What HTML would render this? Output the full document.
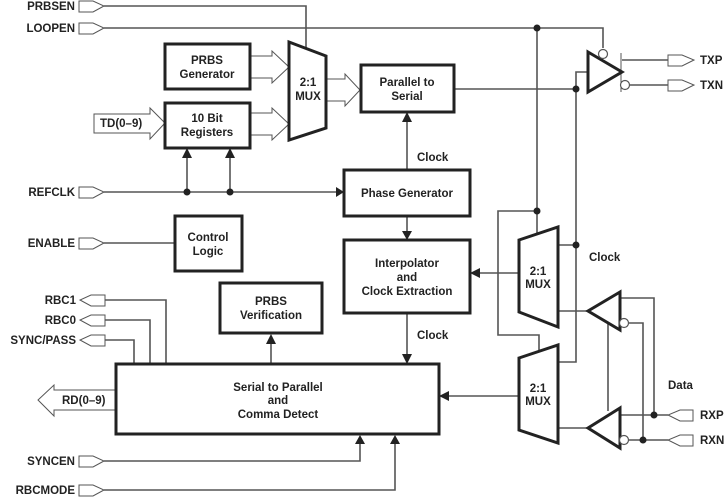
<!DOCTYPE html>
<html><head><style>
html,body{margin:0;padding:0;background:#fff;}
svg{display:block;}
text{font-family:"Liberation Sans",sans-serif;font-weight:bold;font-size:11.5px;fill:#222;}
.l{stroke:#555;stroke-width:1.6;fill:none;}
.b{stroke:#222;stroke-width:3;fill:#fff;}
.h{stroke:#555;stroke-width:1;fill:#fff;}
</style></head><body>
<svg width="726" height="498" viewBox="0 0 726 498" xmlns="http://www.w3.org/2000/svg">
<!-- input terminals (pentagon pointing right) -->
<g class="h">
<polygon points="79,1 93,1 104,6 93,12 79,12"/>
<polygon points="79,23 93,23 104,28 93,34 79,34"/>
<polygon points="79,187 93,187 104,192 93,198 79,198"/>
<polygon points="79,238 93,238 104,243 93,249 79,249"/>
<polygon points="79,456 93,456 104,461 93,467 79,467"/>
<polygon points="79,485 93,485 104,490 93,496 79,496"/>
<!-- outputs left -->
<polygon points="105,295 91,295 80,300 91,306 105,306"/>
<polygon points="105,315 91,315 80,320 91,326 105,326"/>
<polygon points="105,335 91,335 80,340 91,346 105,346"/>
<!-- TX outputs -->
<polygon points="668,55 682,55 694,60 682,66 668,66"/>
<polygon points="668,80 682,80 694,85 682,91 668,91"/>
<!-- RX inputs -->
<polygon points="693,410 680,410 668,415 680,421 693,421"/>
<polygon points="693,435 680,435 668,440 680,446 693,446"/>
</g>
<g font-size="11">
<text x="75" y="10" text-anchor="end">PRBSEN</text>
<text x="75" y="32" text-anchor="end">LOOPEN</text>
<text x="75" y="196" text-anchor="end">REFCLK</text>
<text x="75" y="247" text-anchor="end">ENABLE</text>
<text x="75" y="465" text-anchor="end">SYNCEN</text>
<text x="75" y="494" text-anchor="end">RBCMODE</text>
<text x="76" y="304" text-anchor="end">RBC1</text>
<text x="76" y="324" text-anchor="end">RBC0</text>
<text x="76" y="344" text-anchor="end">SYNC/PASS</text>
<text x="700" y="64">TXP</text>
<text x="700" y="89">TXN</text>
<text x="700" y="419">RXP</text>
<text x="700" y="444">RXN</text>
<text x="589" y="261">Clock</text>
<text x="668" y="389">Data</text>
<text x="417" y="161">Clock</text>
<text x="417" y="339">Clock</text>
</g>
<!-- lines -->
<g class="l">
<polyline points="104,6 306,6 306,48"/>
<polyline points="104,28 603,28 603,48"/>
<line x1="537" y1="28" x2="537" y2="234"/>
<polyline points="537,211 498,211 498,335 539,335 539,352"/>
<polyline points="454,89 576,89 576,362 558,362"/>
<polyline points="576,89 576,72 588,72"/>
<line x1="558" y1="245" x2="576" y2="245"/>
<line x1="622" y1="60" x2="668" y2="60"/>
<line x1="629" y1="85" x2="668" y2="85"/>
<line x1="621" y1="53" x2="621" y2="92" style="stroke-width:1"/>
<polyline points="104,192 336,192"/>
<line x1="187" y1="192" x2="187" y2="158"/>
<line x1="230" y1="192" x2="230" y2="158"/>
<line x1="104" y1="243" x2="174" y2="243"/>
<line x1="407" y1="170" x2="407" y2="122"/>
<line x1="407" y1="216" x2="407" y2="232"/>
<line x1="407" y1="313" x2="407" y2="354"/>
<line x1="519" y1="273" x2="480" y2="273"/>
<line x1="519" y1="396" x2="449" y2="396"/>
<line x1="271" y1="364" x2="271" y2="343"/>
<polyline points="105,300 166,300 166,364"/>
<polyline points="105,320 150,320 150,364"/>
<polyline points="105,340 134,340 134,364"/>
<polyline points="104,461 360,461 360,444"/>
<polyline points="104,490 395,490 395,444"/>
<line x1="558" y1="311" x2="588" y2="311"/>
<line x1="558" y1="428" x2="588" y2="428"/>
<polyline points="620,298 654,298 654,415"/>
<polyline points="629,323 643,323 643,440"/>
<line x1="620" y1="415" x2="668" y2="415"/>
<line x1="629" y1="440" x2="668" y2="440"/>
<line x1="608" y1="323" x2="608" y2="411"/>
</g>
<!-- dots -->
<g fill="#222">
<circle cx="537" cy="28" r="3.5"/><circle cx="537" cy="211" r="3.5"/>
<circle cx="576" cy="89" r="3.5"/><circle cx="576" cy="245" r="3.5"/>
<circle cx="187" cy="192" r="3.5"/><circle cx="230" cy="192" r="3.5"/>
<circle cx="654" cy="415" r="3.5"/><circle cx="643" cy="440" r="3.5"/>
<!-- arrowheads -->
<polygon points="182,158 192,158 187,148"/>
<polygon points="225,158 235,158 230,148"/>
<polygon points="336,187 336,197 344,192"/>
<polygon points="402,122 412,122 407,112"/>
<polygon points="402,231 412,231 407,240"/>
<polygon points="402,354 412,354 407,364"/>
<polygon points="480,268 480,278 470,273"/>
<polygon points="449,391 449,401 439,396"/>
<polygon points="266,344 276,344 271,334"/>
<polygon points="355,444 365,444 360,435"/>
<polygon points="390,444 400,444 395,435"/>
</g>
<!-- hollow fat arrows -->
<g class="h">
<polygon points="250,56 272,56 272,51 289,67 272,83 272,78 250,78"/>
<polygon points="250,113 272,113 272,108 289,124 272,140 272,135 250,135"/>
<polygon points="326,79 345,79 345,74 360,90 345,106 345,101 326,101"/>
<polygon points="94,114 150,114 150,108 165,123 150,139 150,133 94,133"/>
<polygon points="116,390 54,390 54,385 38,400 54,416 54,410 116,410"/>
</g>
<text x="100" y="127" font-size="11">TD(0–9)</text>
<text x="62" y="404" font-size="11">RD(0–9)</text>
<!-- boxes -->
<g class="b">
<rect x="165" y="44" width="85" height="45"/>
<rect x="165" y="103" width="85" height="45"/>
<rect x="361" y="65" width="93" height="47"/>
<rect x="344" y="170" width="126" height="46"/>
<rect x="344" y="240" width="126" height="73"/>
<rect x="175" y="216" width="67" height="55"/>
<rect x="220" y="283" width="102" height="50"/>
<rect x="116" y="364" width="323" height="70"/>
<polygon points="289,42 326,56 326,128 289,140"/>
<polygon points="519,240 558,227 558,327 519,312"/>
<polygon points="519,358 558,345 558,443 519,430"/>
<polygon points="588,52 622,72 588,92"/>
<polygon points="620,292 588,311 620,330"/>
<polygon points="620,408 588,428 620,448"/>
</g>
<g fill="#fff" stroke="#555" stroke-width="1.2">
<circle cx="603" cy="54" r="4.5"/>
<circle cx="625" cy="85" r="4.5"/>
<circle cx="624" cy="323" r="4.5"/>
<circle cx="624" cy="440" r="4.5"/>
</g>
<g text-anchor="middle">
<text x="207" y="64">PRBS</text><text x="207" y="78">Generator</text>
<text x="207" y="122">10 Bit</text><text x="207" y="136">Registers</text>
<text x="308" y="86">2:1</text><text x="308" y="100">MUX</text>
<text x="407" y="86">Parallel to</text><text x="407" y="100">Serial</text>
<text x="407" y="197">Phase Generator</text>
<text x="407" y="267">Interpolator</text><text x="407" y="281">and</text><text x="407" y="295">Clock  Extraction</text>
<text x="208" y="241">Control</text><text x="208" y="255">Logic</text>
<text x="271" y="305">PRBS</text><text x="271" y="319">Verification</text>
<text x="278" y="391">Serial to Parallel</text><text x="278" y="404">and</text><text x="278" y="418">Comma Detect</text>
<text x="538" y="275">2:1</text><text x="538" y="288">MUX</text>
<text x="538" y="392">2:1</text><text x="538" y="405">MUX</text>
</g>
</svg>
</body></html>
